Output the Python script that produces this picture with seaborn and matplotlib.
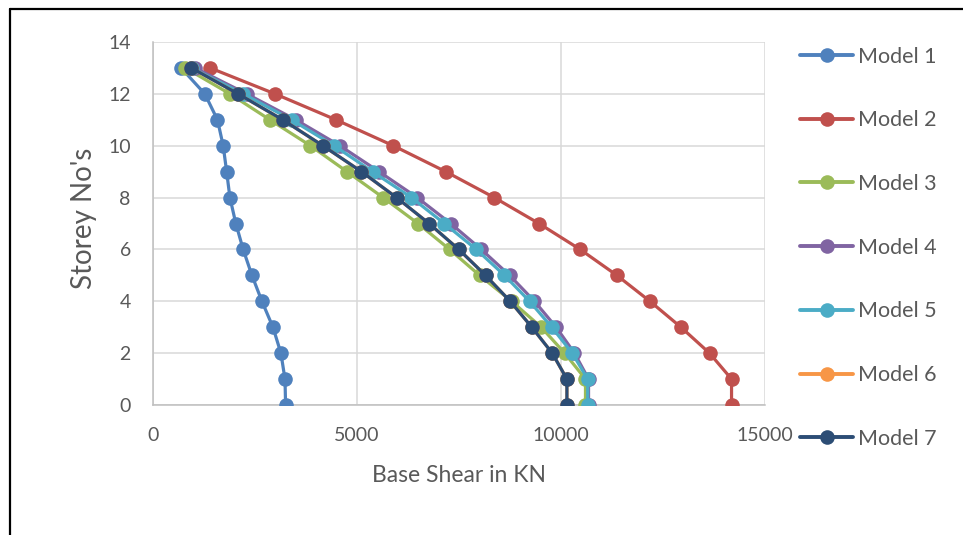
import matplotlib
matplotlib.use("Agg")
import matplotlib.pyplot as plt
import seaborn as sns
import pandas as pd
from matplotlib.lines import Line2D

storeys = list(range(0, 14))

model_1 = [3250, 3235, 3135, 2940, 2670, 2425, 2210, 2030, 1885, 1805, 1720, 1580, 1270, 690]
model_2 = [14180, 14180, 13640, 12940, 12180, 11370, 10470, 9460, 8365, 7175, 5890, 4485, 2990, 1400]
model_3 = [10600, 10600, 10090, 9515, 8790, 8005, 7270, 6495, 5640, 4755, 3860, 2865, 1885, 790]
model_4 = [10675, 10675, 10330, 9880, 9350, 8740, 8045, 7295, 6475, 5540, 4580, 3500, 2295, 1030]
model_5 = [10655, 10655, 10275, 9775, 9230, 8615, 7925, 7140, 6335, 5380, 4440, 3395, 2210, 950]
model_6 = [10145, 10145, 9785, 9285, 8755, 8150, 7495, 6765, 5970, 5110, 4165, 3180, 2085, 940]
model_7 = [10145, 10145, 9785, 9285, 8755, 8150, 7495, 6765, 5970, 5110, 4165, 3180, 2085, 940]

model_names = ["Model 1", "Model 2", "Model 3", "Model 4", "Model 5", "Model 6", "Model 7"]
model_values = [model_1, model_2, model_3, model_4, model_5, model_6, model_7]
colors = ["#4F81BD", "#C0504D", "#9BBB59", "#8064A2", "#4BACC6", "#F79646", "#2C4D75"]

x_ticks = [0, 5000, 10000, 15000]
y_ticks = [0, 2, 4, 6, 8, 10, 12, 14]

rows = []
for name, vals in zip(model_names, model_values):
    for s, v in zip(storeys, vals):
        rows.append({"Model": name, "Shear": v, "Storey": s})
df = pd.DataFrame(rows)

sns.set_theme(style="white")
plt.rcParams["font.family"] = ["Lato", "DejaVu Sans"]

fig = plt.figure(figsize=(9.63, 5.35), dpi=100)
ax = fig.add_axes([153 / 963, (535 - 405) / 535, (765 - 153) / 963, (405 - 42) / 535])

sns.lineplot(data=df, x="Shear", y="Storey", hue="Model", hue_order=model_names,
             palette=colors, marker="o", markersize=10.5, markeredgewidth=0,
             linewidth=2.3, sort=False, estimator=None, ax=ax, legend=False,
             zorder=3)

ax.set_xlim(0, 15000)
ax.set_ylim(0, 14)
ax.set_xticks(x_ticks)
ax.set_yticks(y_ticks)
ax.set_xticklabels([str(t) for t in x_ticks])
ax.set_yticklabels([str(t) for t in y_ticks])
ax.grid(True, color="#D9D9D9", linewidth=1.1, zorder=0)
ax.set_axisbelow(True)
for side in ["top", "right"]:
    ax.spines[side].set_visible(False)
for side in ["left", "bottom"]:
    ax.spines[side].set_color("#BFBFBF")
    ax.spines[side].set_linewidth(1.1)
ax.tick_params(axis="both", length=0, labelsize=14, colors="#595959")
ax.tick_params(axis="x", pad=16)
ax.tick_params(axis="y", pad=16)
for lab in ax.get_xticklabels() + ax.get_yticklabels():
    lab.set_color("#595959")

ax.set_xlabel("")
ax.set_ylabel("")
fig.text(459 / 963, 1 - 476 / 535, "Base Shear in KN", fontsize=16.5, color="#595959",
         ha="center", va="center")
fig.text(84 / 963, 1 - 218 / 535, "Storey No's", fontsize=20, color="#595959",
         ha="center", va="center", rotation=90)

handles = [Line2D([0], [0], color=c, linewidth=2.8, marker="o", markersize=10.5,
                  markeredgewidth=0) for c in colors]
fig.legend(handles, model_names, loc="upper left",
           bbox_to_anchor=(791 / 963, 1 - 38 / 535), frameon=False,
           fontsize=15.5, labelcolor="#595959", handlelength=2.5,
           handletextpad=0.23, labelspacing=2.03, borderaxespad=0)

# outer frame (left and top edges visible)
fig.add_artist(Line2D([10 / 963, 10 / 963], [0, 1 - 9 / 535], color="black",
                      linewidth=1.6, transform=fig.transFigure))
fig.add_artist(Line2D([10 / 963, 1], [1 - 9 / 535, 1 - 9 / 535], color="black",
                      linewidth=1.6, transform=fig.transFigure))

fig.savefig("out.png", dpi=100, facecolor="white")
